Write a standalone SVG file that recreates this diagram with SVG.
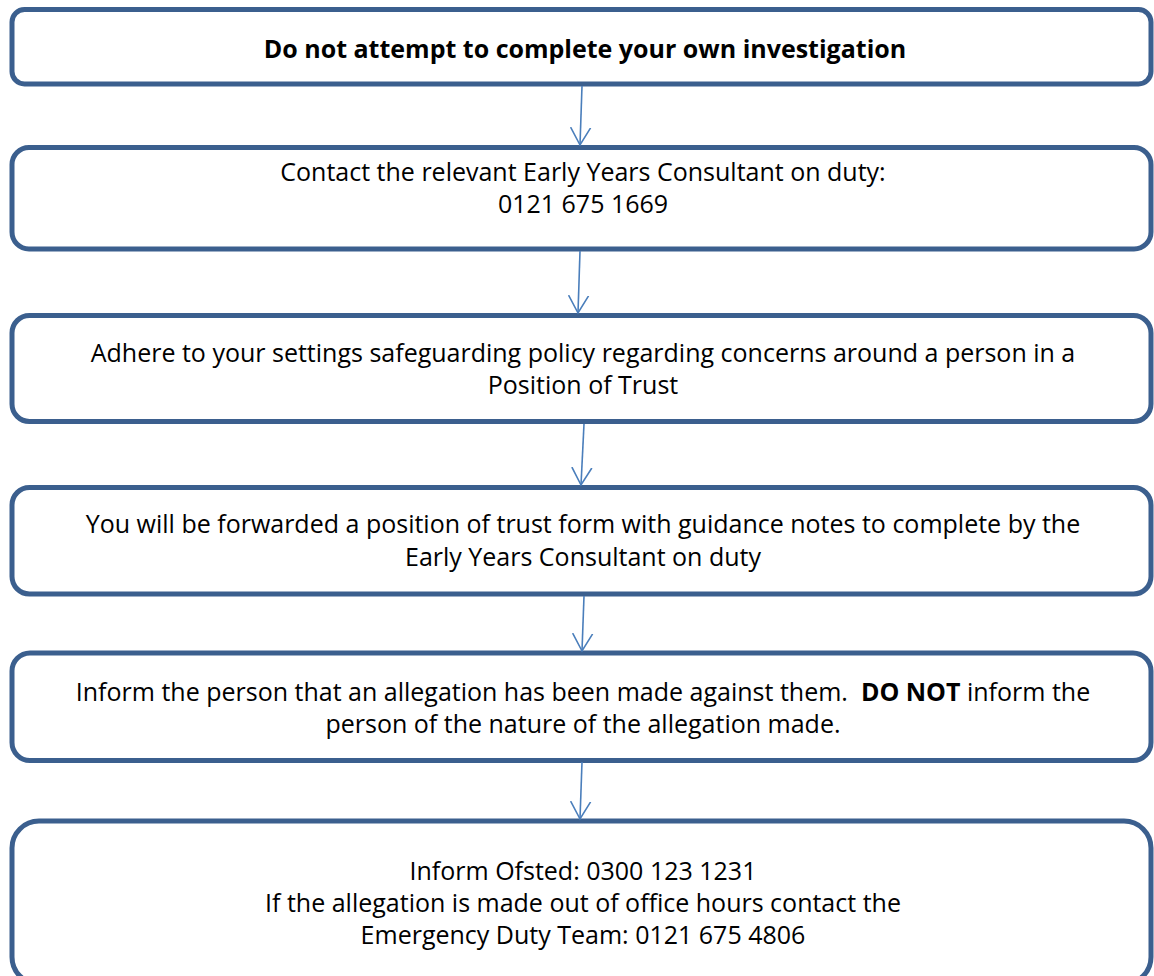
<svg xmlns="http://www.w3.org/2000/svg" width="1154" height="976" viewBox="0 0 1154 976">
<style>
.box{fill:#ffffff;stroke:#3B5F8E;stroke-width:5}
.t{font-family:"Open Sans","Liberation Sans",sans-serif;font-size:25px;fill:#000;text-anchor:middle}
.b{font-weight:bold}
.c{stroke:#4A7EBB;stroke-width:1.6;fill:none}
</style>
<defs>
<marker id="arr" viewBox="0 0 20 22" refX="17.5" refY="11" markerWidth="20" markerHeight="22" markerUnits="userSpaceOnUse" orient="auto">
<path d="M0 1 L17.5 11 L0 21" fill="none" stroke="#4A7EBB" stroke-width="1.6"/>
</marker>
</defs>
<rect width="1154" height="976" fill="#ffffff"/>
<g id="n1">
<rect class="box" x="12" y="9.5" width="1139" height="74.5" rx="12.5"/>
<text class="t b" x="585" y="58">Do not attempt to complete your own investigation</text>
</g>
<g id="n2">
<rect class="box" x="12" y="147.5" width="1139" height="101.5" rx="17"/>
<text class="t" x="583" y="181">Contact the relevant Early Years Consultant on duty:</text>
<text class="t" x="583" y="213">0121 675 1669</text>
</g>
<g id="n3">
<rect class="box" x="12" y="315.5" width="1139" height="106" rx="17.5"/>
<text class="t" x="583" y="362">Adhere to your settings safeguarding policy regarding concerns around a person in a</text>
<text class="t" x="583" y="394">Position of Trust</text>
</g>
<g id="n4">
<rect class="box" x="12" y="487.5" width="1139" height="106.5" rx="17.5"/>
<text class="t" x="583" y="533">You will be forwarded a position of trust form with guidance notes to complete by the</text>
<text class="t" x="583" y="566">Early Years Consultant on duty</text>
</g>
<g id="n5">
<rect class="box" x="12" y="653" width="1139" height="107.5" rx="18"/>
<text class="t" x="583" y="701">Inform the person that an allegation has been made against them.&#160; <tspan class="b">DO NOT</tspan> inform the</text>
<text class="t" x="583" y="733">person of the nature of the allegation made.</text>
</g>
<g id="n6">
<rect class="box" x="12" y="821" width="1139" height="163" rx="27"/>
<text class="t" x="583" y="880">Inform Ofsted: 0300 123 1231</text>
<text class="t" x="583" y="912">If the allegation is made out of office hours contact the</text>
<text class="t" x="583" y="944">Emergency Duty Team: 0121 675 4806</text>
</g>
<g id="connectors">
<line class="c" x1="582" y1="86" x2="580" y2="145" marker-end="url(#arr)"/>
<line class="c" x1="580" y1="251" x2="578" y2="313" marker-end="url(#arr)"/>
<line class="c" x1="584" y1="424" x2="581" y2="485" marker-end="url(#arr)"/>
<line class="c" x1="584" y1="596" x2="582" y2="651" marker-end="url(#arr)"/>
<line class="c" x1="582" y1="762" x2="580" y2="819" marker-end="url(#arr)"/>
</g>
</svg>
